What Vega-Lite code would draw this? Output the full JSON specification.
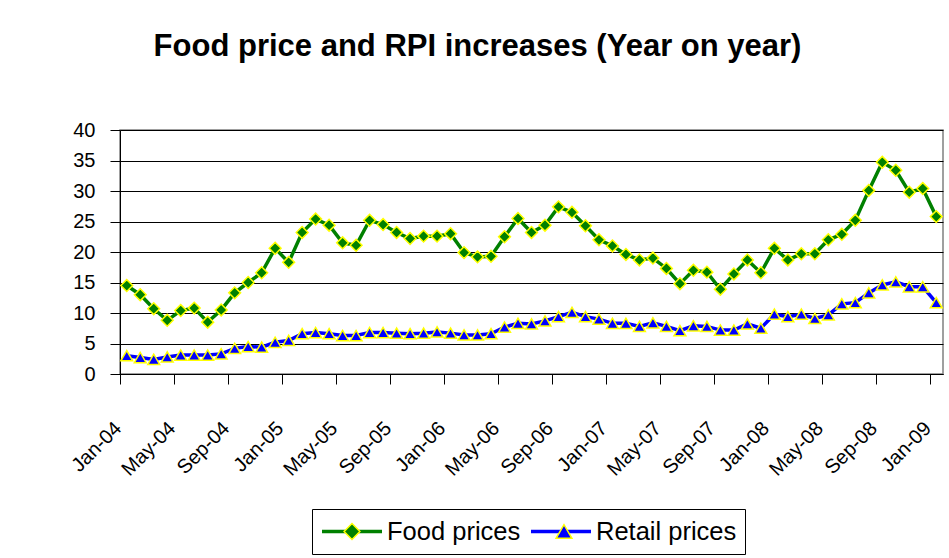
{
  "$schema": "https://vega.github.io/schema/vega-lite/v6.json",
  "width": 823,
  "height": 244,
  "autosize": {"type": "none"},
  "padding": {"left": 120, "top": 130, "right": 6, "bottom": 184},
  "background": "#ffffff",
  "title": {
    "text": "Food price and RPI increases (Year on year)",
    "font": "Liberation Sans",
    "fontSize": 31,
    "fontWeight": "bold",
    "color": "#000000",
    "anchor": "middle",
    "dx": -54,
    "offset": 33,
    "baseline": "alphabetic"
  },
  "data": {
    "values": [
      {"month": "Jan-04", "Food prices": 14.5, "Retail prices": 3.0},
      {"month": "Feb-04", "Food prices": 13.0, "Retail prices": 2.7},
      {"month": "Mar-04", "Food prices": 10.7, "Retail prices": 2.4},
      {"month": "Apr-04", "Food prices": 8.8, "Retail prices": 2.8},
      {"month": "May-04", "Food prices": 10.4, "Retail prices": 3.1},
      {"month": "Jun-04", "Food prices": 10.8, "Retail prices": 3.1},
      {"month": "Jul-04", "Food prices": 8.5, "Retail prices": 3.1},
      {"month": "Aug-04", "Food prices": 10.5, "Retail prices": 3.3},
      {"month": "Sep-04", "Food prices": 13.3, "Retail prices": 4.2},
      {"month": "Oct-04", "Food prices": 15.0, "Retail prices": 4.5},
      {"month": "Nov-04", "Food prices": 16.6, "Retail prices": 4.4},
      {"month": "Dec-04", "Food prices": 20.6, "Retail prices": 5.2},
      {"month": "Jan-05", "Food prices": 18.3, "Retail prices": 5.5},
      {"month": "Feb-05", "Food prices": 23.2, "Retail prices": 6.6},
      {"month": "Mar-05", "Food prices": 25.4, "Retail prices": 6.8},
      {"month": "Apr-05", "Food prices": 24.4, "Retail prices": 6.6},
      {"month": "May-05", "Food prices": 21.5, "Retail prices": 6.3},
      {"month": "Jun-05", "Food prices": 21.1, "Retail prices": 6.3},
      {"month": "Jul-05", "Food prices": 25.2, "Retail prices": 6.8},
      {"month": "Aug-05", "Food prices": 24.5, "Retail prices": 6.8},
      {"month": "Sep-05", "Food prices": 23.2, "Retail prices": 6.7},
      {"month": "Oct-05", "Food prices": 22.2, "Retail prices": 6.6},
      {"month": "Nov-05", "Food prices": 22.6, "Retail prices": 6.7},
      {"month": "Dec-05", "Food prices": 22.6, "Retail prices": 6.9},
      {"month": "Jan-06", "Food prices": 23.0, "Retail prices": 6.7},
      {"month": "Feb-06", "Food prices": 19.9, "Retail prices": 6.4},
      {"month": "Mar-06", "Food prices": 19.2, "Retail prices": 6.4},
      {"month": "Apr-06", "Food prices": 19.3, "Retail prices": 6.6},
      {"month": "May-06", "Food prices": 22.5, "Retail prices": 7.7},
      {"month": "Jun-06", "Food prices": 25.5, "Retail prices": 8.3},
      {"month": "Jul-06", "Food prices": 23.2, "Retail prices": 8.2},
      {"month": "Aug-06", "Food prices": 24.4, "Retail prices": 8.7},
      {"month": "Sep-06", "Food prices": 27.4, "Retail prices": 9.4},
      {"month": "Oct-06", "Food prices": 26.5, "Retail prices": 10.1},
      {"month": "Nov-06", "Food prices": 24.3, "Retail prices": 9.4},
      {"month": "Dec-06", "Food prices": 22.0, "Retail prices": 9.0},
      {"month": "Jan-07", "Food prices": 21.0, "Retail prices": 8.3},
      {"month": "Feb-07", "Food prices": 19.6, "Retail prices": 8.3},
      {"month": "Mar-07", "Food prices": 18.7, "Retail prices": 7.8},
      {"month": "Apr-07", "Food prices": 19.0, "Retail prices": 8.4},
      {"month": "May-07", "Food prices": 17.3, "Retail prices": 7.8},
      {"month": "Jun-07", "Food prices": 14.8, "Retail prices": 7.1},
      {"month": "Jul-07", "Food prices": 17.0, "Retail prices": 7.9},
      {"month": "Aug-07", "Food prices": 16.7, "Retail prices": 7.8},
      {"month": "Sep-07", "Food prices": 13.9, "Retail prices": 7.2},
      {"month": "Oct-07", "Food prices": 16.4, "Retail prices": 7.2},
      {"month": "Nov-07", "Food prices": 18.7, "Retail prices": 8.2},
      {"month": "Dec-07", "Food prices": 16.6, "Retail prices": 7.5},
      {"month": "Jan-08", "Food prices": 20.6, "Retail prices": 9.8},
      {"month": "Feb-08", "Food prices": 18.7, "Retail prices": 9.4},
      {"month": "Mar-08", "Food prices": 19.7, "Retail prices": 9.8},
      {"month": "Apr-08", "Food prices": 19.7, "Retail prices": 9.1},
      {"month": "May-08", "Food prices": 22.0, "Retail prices": 9.7},
      {"month": "Jun-08", "Food prices": 22.9, "Retail prices": 11.5},
      {"month": "Jul-08", "Food prices": 25.2, "Retail prices": 11.7},
      {"month": "Aug-08", "Food prices": 30.1, "Retail prices": 13.3},
      {"month": "Sep-08", "Food prices": 34.7, "Retail prices": 14.6},
      {"month": "Oct-08", "Food prices": 33.4, "Retail prices": 15.1},
      {"month": "Nov-08", "Food prices": 29.8, "Retail prices": 14.3},
      {"month": "Dec-08", "Food prices": 30.4, "Retail prices": 14.3},
      {"month": "Jan-09", "Food prices": 25.8, "Retail prices": 11.7}
    ]
  },
  "transform": [
    {"fold": ["Food prices", "Retail prices"], "as": ["series", "value"]}
  ],
  "encoding": {
    "x": {
      "field": "month",
      "type": "ordinal",
      "sort": null,
      "scale": {"type": "point", "padding": 0.5},
      "axis": {
        "title": null,
        "values": ["Jan-04", "May-04", "Sep-04", "Jan-05", "May-05", "Sep-05", "Jan-06", "May-06", "Sep-06", "Jan-07", "May-07", "Sep-07", "Jan-08", "May-08", "Sep-08", "Jan-09"],
        "tickOffset": -6.75,
        "labelOffset": -2,
        "labelAngle": -45,
        "labelAlign": "right",
        "labelBaseline": "middle",
        "labelPadding": 41,
        "labelOverlap": false,
        "tickSize": 10,
        "grid": false
      }
    },
    "y": {
      "field": "value",
      "type": "quantitative",
      "scale": {"domain": [0, 40], "nice": false, "zero": true},
      "axis": {
        "title": null,
        "values": [0, 5, 10, 15, 20, 25, 30, 35, 40],
        "grid": true,
        "tickSize": 10,
        "labelPadding": 15
      }
    }
  },
  "layer": [
    {
      "mark": {"type": "line", "strokeWidth": 3.5},
      "encoding": {
        "color": {
          "field": "series",
          "type": "nominal",
          "scale": {"domain": ["Food prices", "Retail prices"], "range": ["#008000", "#0000ff"]},
          "legend": {
            "title": null,
            "orient": "none",
            "legendX": 192,
            "legendY": 379,
            "direction": "horizontal",
            "symbolType": "M-1,0H1",
            "symbolSize": 3600,
            "symbolStrokeWidth": 3.5,
            "labelFontSize": 25.5,
            "labelOffset": 3,
            "labelColor": "#000000",
            "padding": 8,
            "columnPadding": 8,
            "strokeColor": "#000000",
            "fillColor": "#ffffff",
            "clipHeight": 29,
            "zindex": 0
          }
        }
      }
    },
    {
      "mark": {"type": "point", "filled": true, "size": 140, "stroke": "#ffff00", "strokeWidth": 1.5, "opacity": 1},
      "encoding": {
        "fill": {
          "field": "series",
          "type": "nominal",
          "scale": {"range": ["#008000", "#0000ff"]},
          "legend": {
            "title": null,
            "orient": "none",
            "legendX": 192,
            "legendY": 379,
            "direction": "horizontal",
            "symbolSize": 250,
            "symbolStrokeColor": "#ffff00",
            "symbolStrokeWidth": 1.5,
            "symbolOffset": 23,
            "labelFontSize": 1,
            "labelOffset": 0,
            "labelColor": "transparent",
            "padding": 8,
            "columnPadding": 165,
            "clipHeight": 29,
            "zindex": 1
          }
        },
        "shape": {
          "field": "series",
          "type": "nominal",
          "scale": {"range": ["diamond", "triangle-up"]}
        }
      }
    }
  ],
  "config": {
    "font": "Liberation Sans",
    "view": {"stroke": "#808080", "strokeWidth": 1.5},
    "axis": {
      "domainColor": "#000000",
      "domainWidth": 1,
      "tickColor": "#000000",
      "tickWidth": 1,
      "gridColor": "#000000",
      "gridWidth": 1,
      "labelColor": "#000000",
      "labelFont": "Liberation Sans",
      "labelFontSize": 20
    },
    "legend": {"labelFont": "Liberation Sans"}
  }
}
